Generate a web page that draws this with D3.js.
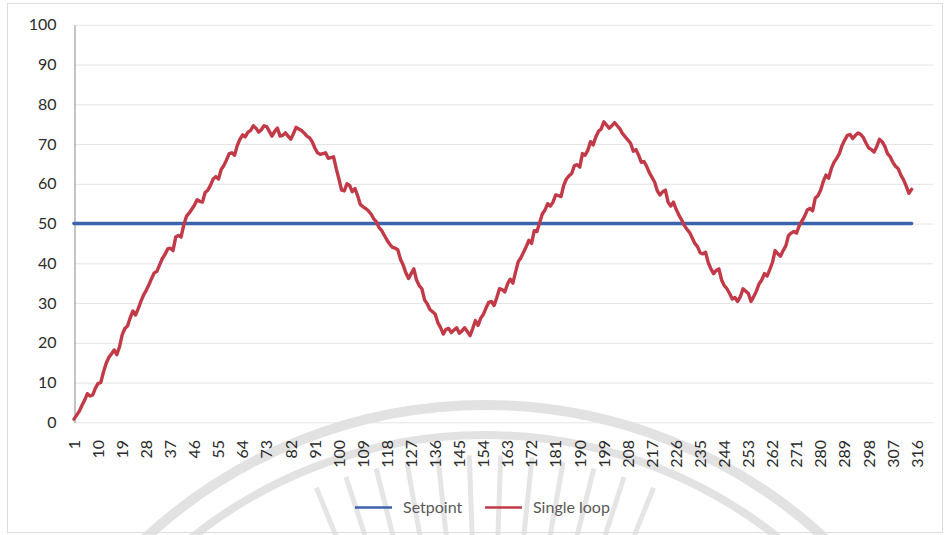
<!DOCTYPE html>
<html>
<head>
<meta charset="utf-8">
<script src="https://cdn.jsdelivr.net/npm/d3@7/dist/d3.min.js"></script>
<style>
  html, body { margin: 0; padding: 0; background: #ffffff; }
  svg { display: block; }
  text { font-family: Lato, "Open Sans", sans-serif; }
</style>
</head>
<body>
<svg id="chart" width="949" height="535"></svg>
<script>
// Process response of a single-loop controller against its setpoint
const categoryCount = 322;
const xTickLabels = [1, 10, 19, 28, 37, 46, 55, 64, 73, 82, 91, 100, 109, 118, 127, 136, 145, 154,
  163, 172, 181, 190, 199, 208, 217, 226, 235, 244, 253, 262, 271, 280, 289, 298, 307, 316];
const yTicks = [0, 10, 20, 30, 40, 50, 60, 70, 80, 90, 100];

const setpoint = 50;

const singleLoop = [
  0.8, 1.8, 2.8, 4.3, 5.6, 7.2, 6.6, 6.9, 8.6, 9.8,
  10.0, 12.6, 14.8, 16.3, 17.2, 18.2, 17.0, 19.0, 22.0, 23.6,
  24.2, 26.3, 28.0, 27.0, 28.6, 30.4, 32.0, 33.2, 34.6, 36.2,
  37.6, 38.0, 39.6, 41.2, 42.2, 43.6, 43.8, 43.2, 46.6, 47.0,
  46.6, 49.6, 51.8, 52.6, 53.6, 54.6, 56.0, 55.6, 55.4, 57.8,
  58.4, 59.6, 61.2, 61.8, 61.2, 63.6, 64.6, 66.0, 67.6, 67.8,
  67.2, 69.6, 71.2, 72.3, 71.8, 73.0, 73.4, 74.6, 74.0, 73.0,
  73.6, 74.6, 74.4, 73.2, 72.0, 73.2, 74.0, 72.0, 72.2, 72.8,
  72.0, 71.2, 72.6, 74.2, 73.8, 73.4, 72.8, 72.0, 71.6, 70.6,
  69.0, 67.8, 67.4, 67.6, 67.8, 66.4, 66.6, 66.8, 63.8, 61.2,
  58.4, 58.2, 60.0, 59.6, 58.0, 58.8, 57.0, 54.8, 54.2, 53.8,
  53.2, 52.4, 51.2, 50.4, 49.0, 48.2, 47.0, 45.8, 44.8, 44.0,
  43.8, 43.4, 41.0, 39.6, 37.6, 36.2, 37.4, 38.6, 35.8, 34.4,
  33.6, 30.8, 29.8, 28.4, 27.8, 27.2, 25.0, 23.8, 22.2, 23.4,
  23.6, 22.6, 23.2, 23.8, 22.4, 23.0, 23.8, 22.8, 21.8, 23.6,
  25.6, 24.4, 26.2, 27.2, 28.8, 30.2, 30.4, 29.4, 31.4, 33.6,
  33.4, 32.8, 34.8, 36.0, 35.0, 37.8, 40.4, 41.4, 42.8, 44.2,
  45.8, 45.0, 48.2, 48.0, 50.2, 52.4, 53.4, 55.0, 54.4, 55.4,
  57.2, 57.0, 56.8, 59.6, 61.2, 62.0, 62.6, 64.6, 64.8, 64.2,
  67.6, 67.2, 68.4, 70.6, 69.8, 71.8, 73.2, 73.8, 75.6, 74.8,
  74.0, 74.6, 75.4, 74.6, 73.8, 72.6, 71.8, 71.0, 70.2, 68.2,
  68.6, 67.2, 65.4, 65.6, 64.4, 62.8, 61.6, 60.4, 58.2, 57.2,
  58.0, 58.4, 55.4, 54.4, 55.4, 53.6, 52.2, 51.0, 49.6, 48.6,
  47.8, 46.4, 45.0, 44.2, 42.6, 42.4, 42.8, 40.2, 38.6, 37.4,
  38.2, 38.6, 35.8, 34.4, 33.6, 32.4, 31.0, 31.4, 30.4, 31.6,
  33.6, 33.0, 32.4, 30.4, 31.6, 33.0, 34.8, 35.8, 37.4, 36.8,
  38.4, 40.2, 43.2, 42.4, 41.8, 43.2, 44.4, 47.0, 47.6, 48.0,
  47.6, 49.4, 50.6, 51.8, 53.4, 53.8, 53.2, 56.4, 57.0, 58.4,
  60.6, 62.2, 61.4, 63.8, 65.4, 66.4, 67.6, 69.6, 71.0, 72.2,
  72.4, 71.4, 72.2, 72.8, 72.4, 71.6, 70.2, 69.0, 68.6, 68.0,
  69.4, 71.2, 70.6, 69.4, 67.6, 66.8, 65.4, 64.4, 63.8, 62.2,
  61.0, 59.4, 57.6, 58.6
];

const seriesNames = ["Setpoint", "Single loop"];
const seriesColors = ["#3b62ad", "#c23a48"];

const svg = d3.select("#chart");

// faint watermark emblem behind the chart
const wm = svg.append("g").attr("fill", "none").attr("stroke", "#e2e2e2");
const wmCenter = [485, 905];
wm.append("circle").attr("cx", wmCenter[0]).attr("cy", wmCenter[1]).attr("r", 500).attr("stroke-width", 10);
wm.append("circle").attr("cx", wmCenter[0]).attr("cy", wmCenter[1]).attr("r", 470).attr("stroke-width", 8);
d3.range(-22, 23, 4).forEach(a => {
  const t = (a - 90) * Math.PI / 180;
  wm.append("line")
    .attr("x1", wmCenter[0] + 330 * Math.cos(t)).attr("y1", wmCenter[1] + 330 * Math.sin(t))
    .attr("x2", wmCenter[0] + 450 * Math.cos(t)).attr("y2", wmCenter[1] + 450 * Math.sin(t))
    .attr("stroke-width", 5).attr("stroke", "#e5e5e5");
});

// chart area border
svg.append("rect").attr("x", 7.5).attr("y", 3.5).attr("width", 935).attr("height", 529)
  .attr("fill", "none").attr("stroke", "#dcdcdc").attr("stroke-width", 1);

const x = d3.scaleLinear().domain([1, categoryCount]).range([74, 933]);
const y = d3.scaleLinear().domain([0, 100]).range([422.3, 24.8]);

// horizontal gridlines
svg.append("g")
  .attr("transform", `translate(${x.range()[0]},0)`)
  .call(d3.axisLeft(y).tickValues(yTicks).tickSize(-(x.range()[1] - x.range()[0])).tickFormat(""))
  .call(g => g.select(".domain").remove())
  .call(g => g.selectAll("line").attr("stroke", "#e4e4e4").attr("stroke-width", 1));

// vertical axis line and labels
const yAxis = svg.append("g").attr("transform", `translate(${x.range()[0] + 0.5},0)`)
  .call(d3.axisLeft(y).tickValues(yTicks).tickSize(0).tickPadding(18).tickFormat(d3.format("d")));
yAxis.select(".domain").attr("stroke", "#8a8a8a").attr("stroke-width", 1);
yAxis.selectAll("text").attr("font-size", 16).attr("fill", "#2b2b2b")
  .attr("font-family", "Lato, 'Open Sans', sans-serif");

// category labels, rotated
const xAxis = svg.append("g").attr("transform", "translate(0,440)");
xAxis.selectAll("text").data(xTickLabels).join("text")
  .attr("transform", d => `translate(${x(d)},0) rotate(-90)`)
  .attr("text-anchor", "end")
  .attr("dy", "0.36em")
  .attr("font-size", 16)
  .attr("fill", "#2b2b2b")
  .text(d => d);

// series
const line = d3.line().x(d => x(d[0])).y(d => y(d[1]));
const setpointSeries = [[1, setpoint], [singleLoop.length, setpoint]];
const loopSeries = singleLoop.map((v, i) => [i + 1, v]);

svg.append("path").datum(setpointSeries)
  .attr("d", line).attr("fill", "none")
  .attr("stroke", seriesColors[0]).attr("stroke-width", 3.6).attr("stroke-linecap", "round");

svg.append("path").datum(loopSeries)
  .attr("d", line).attr("fill", "none")
  .attr("stroke", seriesColors[1]).attr("stroke-width", 3.4)
  .attr("stroke-linejoin", "round").attr("stroke-linecap", "round");

// legend
const legendY = 507.5;
const legendItems = [{ x: 355, tx: 403 }, { x: 485, tx: 533 }];
const legend = svg.append("g");
seriesNames.forEach((name, i) => {
  legend.append("line")
    .attr("x1", legendItems[i].x).attr("x2", legendItems[i].x + 37)
    .attr("y1", legendY).attr("y2", legendY)
    .attr("stroke", seriesColors[i]).attr("stroke-width", 2.5);
  legend.append("text")
    .attr("x", legendItems[i].tx).attr("y", legendY).attr("dy", "0.35em")
    .attr("font-size", 16).attr("fill", "#595959").text(name);
});
</script>
</body>
</html>
